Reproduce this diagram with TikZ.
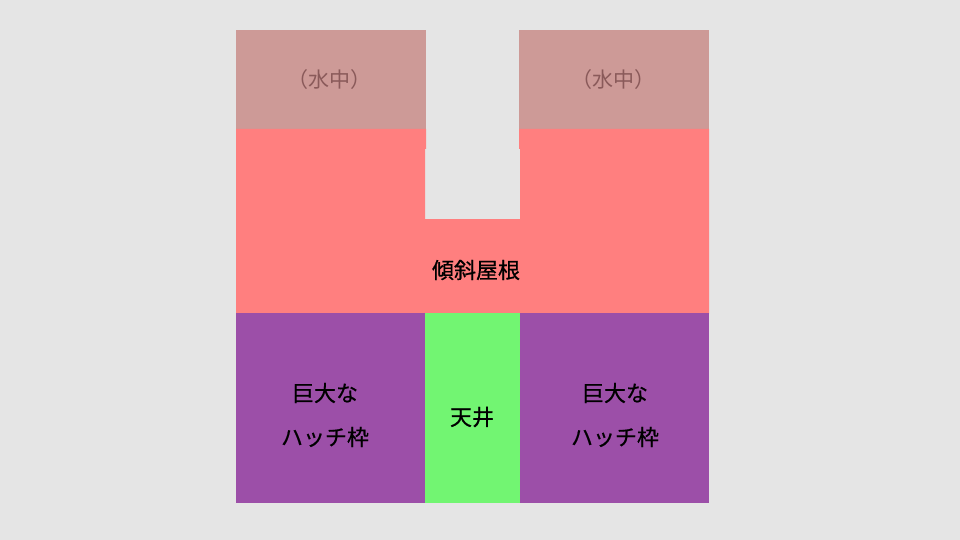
\documentclass[tikz,border=0pt]{standalone}
\usepackage{fontspec}
\newfontfamily\jp{Noto Sans CJK JP}
\newfontfamily\jpb[FakeBold=0.6]{Noto Sans CJK JP}
\definecolor{bg}{HTML}{E5E5E5}
\definecolor{water}{HTML}{CD9A97}
\definecolor{roof}{HTML}{FF7F7F}
\definecolor{hatch}{HTML}{9C4FA8}
\definecolor{ceil}{HTML}{72F572}
\definecolor{watertext}{HTML}{8A5A5A}
\tikzset{
  lbl/.style={font=\jpb\fontsize{22pt}{26pt}\selectfont, text=black, align=center},
  wlbl/.style={font=\jp\fontsize{21pt}{24pt}\selectfont, text=watertext},
}
\begin{document}
\begin{tikzpicture}[x=1pt,y=-1pt]
\fill[bg] (0,0) rectangle (960,540);
\useasboundingbox (0,0) rectangle (960,540);
% water boxes
\fill[water] (236,30) rectangle (426,130);
\fill[water] (519,30) rectangle (709,130);
% roof
\fill[roof] (236,129) -- (426,129) -- (426,149) -- (425,149) -- (425,219) -- (520,219) -- (520,149) -- (519,149) -- (519,129) -- (709,129) -- (709,313.5) -- (236,313.5) -- cycle;
% bottom
\fill[hatch] (236,313) rectangle (425,503);
\fill[ceil] (425,313) rectangle (520,503);
\fill[hatch] (520,313) rectangle (709,503);
% labels
\node[wlbl] (w1) at (329,80) {（水中）};
\node[wlbl] (w2) at (613,80) {（水中）};
\node[lbl] (r) at (476,270) {傾斜屋根};
\node[lbl] (h1a) at (325,393) {巨大な};
\node[lbl] (h1b) at (325,437) {ハッチ枠};
\node[lbl] (c) at (472,417) {天井};
\node[lbl] (h2a) at (615,393) {巨大な};
\node[lbl] (h2b) at (615,437) {ハッチ枠};
\end{tikzpicture}
\end{document}
